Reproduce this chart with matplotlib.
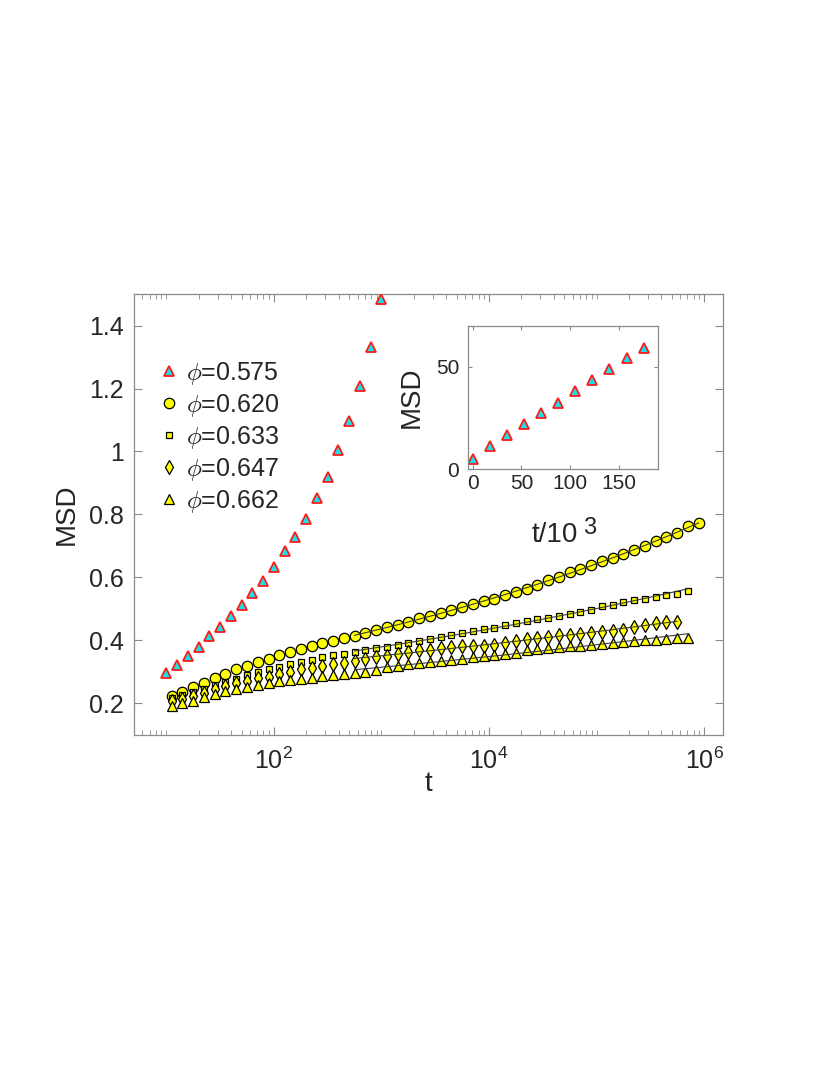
import numpy as np
import matplotlib
matplotlib.use('Agg')
import matplotlib.pyplot as plt
from matplotlib.ticker import LogLocator, NullFormatter, FixedLocator

plt.rcParams['font.family'] = ['Liberation Sans', 'DejaVu Sans']
plt.rcParams['mathtext.fontset'] = 'custom'
plt.rcParams['mathtext.rm'] = 'Liberation Sans'
plt.rcParams['mathtext.it'] = 'Liberation Sans:italic'
plt.rcParams['mathtext.bf'] = 'Liberation Sans:bold'

# MSD vs t, log-spaced sampling (0.1 decade steps)
msd_575 = [0.298, 0.322, 0.351, 0.379, 0.413, 0.444, 0.478, 0.513, 0.552, 0.588,
           0.632, 0.683, 0.730, 0.786, 0.852, 0.920, 1.005, 1.096, 1.208, 1.332, 1.485]

msd_620 = [0.224, 0.237, 0.252, 0.266, 0.281, 0.295, 0.308, 0.318, 0.331, 0.342,
           0.353, 0.365, 0.373, 0.381, 0.391, 0.399, 0.407, 0.414, 0.425, 0.433,
           0.442, 0.450, 0.460, 0.470, 0.478, 0.488, 0.497, 0.505, 0.515, 0.524,
           0.532, 0.543, 0.553, 0.564, 0.577, 0.591, 0.603, 0.616, 0.627, 0.639,
           0.651, 0.663, 0.675, 0.688, 0.701, 0.717, 0.727, 0.742, 0.762, 0.774]

msd_633 = [0.218, 0.228, 0.237, 0.247, 0.258, 0.268, 0.277, 0.290, 0.299, 0.309,
           0.316, 0.325, 0.332, 0.339, 0.346, 0.353, 0.358, 0.362, 0.370, 0.375,
           0.380, 0.387, 0.392, 0.398, 0.404, 0.411, 0.416, 0.423, 0.430, 0.436,
           0.441, 0.449, 0.456, 0.461, 0.468, 0.472, 0.478, 0.485, 0.490, 0.498,
           0.509, 0.514, 0.521, 0.528, 0.533, 0.539, 0.544, 0.549, 0.558]

msd_647 = [0.208, 0.214, 0.223, 0.233, 0.245, 0.256, 0.264, 0.272, 0.280, 0.285,
           0.295, 0.301, 0.309, 0.312, 0.320, 0.324, 0.327, 0.335, 0.342, 0.347,
           0.352, 0.358, 0.363, 0.369, 0.370, 0.375, 0.380, 0.382, 0.384, 0.384,
           0.387, 0.392, 0.398, 0.404, 0.409, 0.412, 0.416, 0.417, 0.420, 0.423,
           0.426, 0.429, 0.433, 0.444, 0.450, 0.454, 0.458, 0.460]

msd_662 = [0.192, 0.201, 0.209, 0.219, 0.229, 0.239, 0.247, 0.253, 0.260, 0.264,
           0.270, 0.274, 0.279, 0.282, 0.287, 0.291, 0.294, 0.298, 0.301, 0.306,
           0.316, 0.319, 0.324, 0.327, 0.332, 0.336, 0.339, 0.342, 0.347, 0.351,
           0.354, 0.357, 0.360, 0.371, 0.372, 0.376, 0.379, 0.382, 0.384, 0.387,
           0.390, 0.393, 0.395, 0.399, 0.403, 0.403, 0.406, 0.409, 0.409]

# inset: phi=0.575 on linear axes
t_inset = [0, 17.5, 35, 52.5, 70, 87.5, 105, 122.5, 140, 157.5, 175]
msd_inset = [5.0, 11.4, 17.0, 22.2, 27.3, 32.6, 38.2, 43.6, 49.0, 54.6, 59.3]

labels = [r'$\phi$=0.575', r'$\phi$=0.620', r'$\phi$=0.633', r'$\phi$=0.647', r'$\phi$=0.662']

txt = '#262626'
spine = '#8a8a8a'
cyan = '#1adfe8'


def tgrid(start, n):
    return 10 ** (start + 0.1 * np.arange(n))


def style_axes(ax, size):
    for s in ax.spines.values():
        s.set_color(spine)
        s.set_linewidth(0.9)
    ax.tick_params(which='both', direction='in', top=True, right=True,
                   color=spine, labelcolor=txt, labelsize=size)


fig = plt.figure(figsize=(8.3, 10.75), dpi=100)
ax = fig.add_axes([0.1614, 0.3163, 0.7097, 0.4102])

red = ax.plot(tgrid(1.0, len(msd_575)), msd_575, '^', ms=7.5, mfc=cyan,
              mec='#ff1a1a', mew=1.3, ls='none', zorder=3)[0]

yellow = [(msd_620, 'o', 7.5), (msd_633, 's', 4.8), (msd_647, 'd', 7.5), (msd_662, '^', 7.5)]
handles = [red]
for vals, mk, ms in yellow:
    t = tgrid(1.05, len(vals))
    h = ax.plot(t, vals, mk, ms=ms, mfc='#ffff00', mec='k', mew=0.9, ls='none', zorder=3)[0]
    handles.append(h)
    sel = t >= 10 ** 2.75
    p = np.polyfit(np.log10(t[sel]), np.log10(np.array(vals)[sel]), 1)
    tf = t[sel]
    ax.plot(tf, 10 ** np.polyval(p, np.log10(tf)), '-', color='#3a3a3a', lw=0.8, zorder=4)

ax.set_xscale('log')
ax.set_xlim(5, 1.5e6)
ax.set_ylim(0.1, 1.5)
ax.xaxis.set_major_locator(FixedLocator([1e2, 1e4, 1e6]))
ax.xaxis.set_minor_locator(LogLocator(base=10, subs=np.arange(1, 10), numticks=20))
ax.xaxis.set_minor_formatter(NullFormatter())
ax.set_xticklabels([r'10$^{2}$', r'10$^{4}$', r'10$^{6}$'])
ax.set_yticks([0.2, 0.4, 0.6, 0.8, 1.0, 1.2, 1.4])
ax.set_yticklabels(['0.2', '0.4', '0.6', '0.8', '1', '1.2', '1.4'])
style_axes(ax, 18)
ax.tick_params(which='major', length=6)
ax.tick_params(which='minor', length=3.5)
ax.tick_params(axis='y', pad=7)
ax.tick_params(axis='x', pad=9)
ax.set_xlabel('t', fontsize=20, color=txt, labelpad=-2)
ax.set_ylabel('MSD', fontsize=20, color=txt, labelpad=7)

leg = ax.legend(handles, labels, loc='upper left', bbox_to_anchor=(0.0, 0.902),
                frameon=False, fontsize=18, numpoints=1, handlelength=1.0,
                handletextpad=0.2, labelspacing=0.2, borderaxespad=0.5)
for t_ in leg.get_texts():
    t_.set_color(txt)
    t_.set_math_fontfamily('cm')

# inset
axi = fig.add_axes([0.5635, 0.5634, 0.2296, 0.1333])
axi.plot(t_inset, msd_inset, '^', ms=7.5, mfc=cyan, mec='#ff1a1a', mew=1.3, ls='none')
axi.set_xlim(-5, 190)
axi.set_ylim(0, 70)
axi.set_xticks([0, 50, 100, 150])
axi.set_yticks([0, 50])
style_axes(axi, 15)
axi.tick_params(length=3)
axi.tick_params(axis='y', pad=6)
axi.set_xlabel('t/10', fontsize=20, color=txt, labelpad=21)
axi.xaxis.label.set_x(0.455)
axi.annotate('3', xy=(1.0, 1.0), xycoords=axi.xaxis.label, xytext=(4, 4),
             textcoords='offset points', ha='left', va='top', fontsize=17, color=txt)
axi.set_ylabel('MSD', fontsize=20, color=txt, labelpad=8)

fig.savefig('out.png', dpi=100)
